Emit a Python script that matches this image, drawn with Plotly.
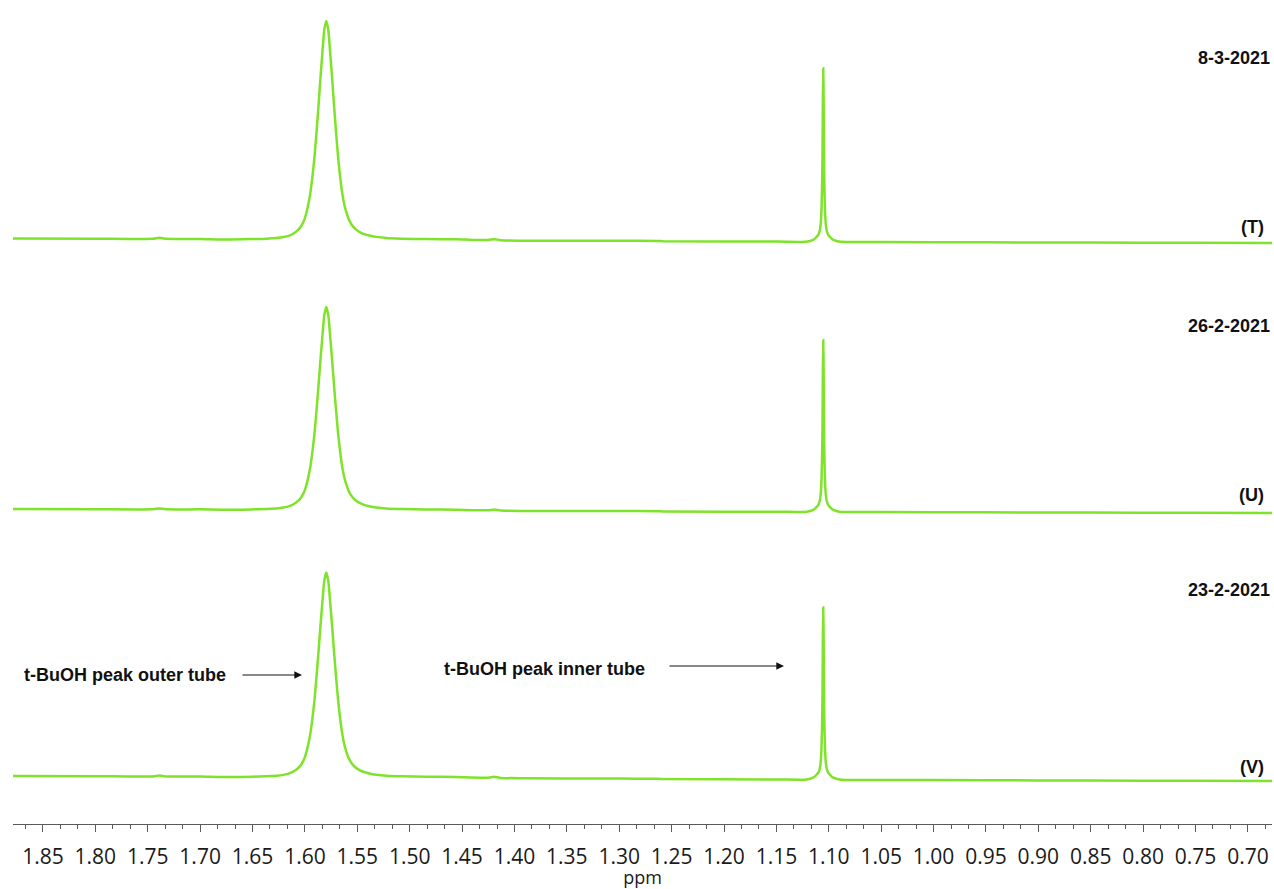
import plotly.graph_objects as go

# ---------------- data ----------------
spectrum_names = ["(T)", "(U)", "(V)"]
spectrum_dates = ["8-3-2021", "26-2-2021", "23-2-2021"]

# peak positions (ppm)
outer_center = 1.5796
inner_center = 1.1053

# peak heights above local baseline (relative units, T outer = 100)
outer_height = [100.0, 92.8, 93.6]
inner_height = [79.4, 78.7, 78.9]

# outer (broad) peak shape: ppm offset from centre -> fraction of height
outer_dppm = [0.0954, 0.0716, 0.0572, 0.0477, 0.0410, 0.0353, 0.0305, 0.0267, 0.0239,
              0.0210, 0.0191, 0.0172, 0.0153, 0.0134, 0.0114, 0.0095, 0.0076, 0.0057,
              0.0038, 0.0019, 0.0,
              -0.0019, -0.0038, -0.0057, -0.0076, -0.0095, -0.0114, -0.0134, -0.0153,
              -0.0172, -0.0191, -0.0210, -0.0239, -0.0267, -0.0305, -0.0353, -0.0410,
              -0.0477, -0.0572, -0.0716, -0.0954, -0.1240]
outer_frac = [0.0, 0.002, 0.004, 0.007, 0.011, 0.018, 0.030, 0.045, 0.062,
              0.090, 0.120, 0.160, 0.210, 0.280, 0.370, 0.480, 0.600, 0.730,
              0.850, 0.960, 1.0,
              0.960, 0.850, 0.730, 0.600, 0.480, 0.370, 0.280, 0.210,
              0.160, 0.125, 0.097, 0.070, 0.053, 0.038, 0.026, 0.018,
              0.012, 0.007, 0.004, 0.002, 0.001]

# inner (sharp) peak shape
inner_dppm = [0.0172, 0.0124, 0.0086, 0.0062, 0.0048, 0.0033, 0.0024, 0.0017, 0.0011,
              0.0007, 0.0004, 0.0, -0.0004, -0.0007, -0.0011, -0.0017, -0.0024,
              -0.0033, -0.0048, -0.0062, -0.0086, -0.0124, -0.0172]
inner_frac = [0.0, 0.005, 0.015, 0.03, 0.04, 0.065, 0.105, 0.18, 0.32,
              0.5, 0.8, 1.0, 0.8, 0.5, 0.32, 0.18, 0.105,
              0.065, 0.04, 0.03, 0.015, 0.005, 0.0]

# baseline knots (ppm) outside the peak regions, and baseline level per spectrum
baseline_ppm = [1.8786, 1.80, 1.745, 1.739, 1.733, 1.70, 1.44, 1.425, 1.419, 1.413,
                1.30, 1.263, 1.258, 1.15, 1.05, 0.95, 0.85, 0.75, 0.677]
baseline_T = [2.06, 1.97, 1.90, 2.35, 1.90, 1.85, 1.42, 1.38, 1.75, 1.30,
              1.00, 0.92, 0.80, 0.65, 0.46, 0.32, 0.20, 0.10, 0.0]
baseline_U = [1.83, 1.76, 1.70, 2.10, 1.70, 1.66, 1.28, 1.24, 1.58, 1.17,
              0.90, 0.83, 0.72, 0.58, 0.41, 0.29, 0.18, 0.09, 0.0]
baseline_V = [2.29, 2.18, 2.10, 2.55, 2.10, 2.04, 1.57, 1.52, 1.90, 1.43,
              1.10, 1.01, 0.88, 0.72, 0.51, 0.35, 0.22, 0.11, 0.0]
baselines = [baseline_T, baseline_U, baseline_V]
outer_base = [1.60, 1.45, 1.78]
inner_base = [0.55, 0.50, 0.62]

tick_values = [1.85, 1.80, 1.75, 1.70, 1.65, 1.60, 1.55, 1.50, 1.45, 1.40, 1.35, 1.30,
               1.25, 1.20, 1.15, 1.10, 1.05, 1.00, 0.95, 0.90, 0.85, 0.80, 0.75, 0.70]

# ---------------- layout geometry ----------------
W, H = 1274, 889
ML, MR, MT, MB = 13, 2, 0, 65
PW, PH = W - ML - MR, H - MT - MB
UNIT = 2.185  # px per intensity unit
LINE_COLOR = "#7FE32A"


def px_x(px):
    return (px - ML) / PW


def px_y(py):
    return (PH - (py - MT)) / PH


# rows (px top, px bottom, px of zero intensity)
rows = [(14, 284, 243), (284, 554, 513), (554, 824, 781)]
yaxis_names = ["y", "y2", "y3"]

fig = go.Figure()
for i in range(3):
    pts = list(zip(baseline_ppm, baselines[i]))
    pts += [(outer_center + d, outer_base[i] + outer_height[i] * f)
            for d, f in zip(outer_dppm, outer_frac)]
    pts += [(inner_center + d, inner_base[i] + inner_height[i] * f)
            for d, f in zip(inner_dppm, inner_frac)]
    pts.sort(key=lambda p: -p[0])
    fig.add_trace(go.Scatter(
        x=[p[0] for p in pts], y=[p[1] for p in pts],
        mode="lines", line=dict(color=LINE_COLOR, width=2.5, shape="spline", smoothing=0.6),
        xaxis="x", yaxis=yaxis_names[i], showlegend=False, hoverinfo="skip",
        name=spectrum_names[i]))

layout_axes = {}
for i, (top, bot, zero) in enumerate(rows):
    span = (bot - top) / UNIT
    lo = -(bot - zero) / UNIT
    key = "yaxis" if i == 0 else f"yaxis{i + 1}"
    layout_axes[key] = dict(domain=[px_y(bot), px_y(top)], range=[lo, lo + span],
                            visible=False, fixedrange=True)

fig.update_layout(
    width=W, height=H,
    margin=dict(l=ML, r=MR, t=MT, b=MB),
    paper_bgcolor="white", plot_bgcolor="white",
    xaxis=dict(
        range=[1.8786, 0.677], anchor="y3",
        showgrid=False, zeroline=False,
        showline=True, linecolor="#5a5a5a", linewidth=1,
        ticks="outside", ticklen=7, tickcolor="#5a5a5a", tickwidth=1,
        tickmode="array", tickvals=tick_values,
        ticktext=[f"{v:.2f}" for v in tick_values],
        ticklabelstandoff=7,
        tickfont=dict(family="Open Sans", size=21, color="#1a1a1a"),
        minor=dict(dtick=0.05 / 3, tick0=0, ticks="outside", ticklen=4,
                   tickcolor="#5a5a5a", showgrid=False),
        title=dict(text="ppm", standoff=5,
                   font=dict(family="Open Sans", size=18, color="#1a1a1a")),
    ),
    **layout_axes,
)

bold = dict(family="Liberation Sans", size=18, color="#111111")
date_y = [57.5, 326, 590]
name_y = [227, 495, 767]
annotations = []
for i in range(3):
    annotations.append(dict(text=f"<b>{spectrum_dates[i]}</b>", x=px_x(1272), y=px_y(date_y[i]),
                            xref="paper", yref="paper", xanchor="right", yanchor="middle",
                            showarrow=False, font=bold))
    annotations.append(dict(text=f"<b>{spectrum_names[i]}</b>", x=px_x(1266), y=px_y(name_y[i]),
                            xref="paper", yref="paper", xanchor="right", yanchor="middle",
                            showarrow=False, font=bold))

annotations.append(dict(text="<b>t-BuOH peak outer tube</b>", x=px_x(22), y=px_y(675),
                        xref="paper", yref="paper", xanchor="left", yanchor="middle",
                        showarrow=False, font=bold))
annotations.append(dict(text="", x=px_x(302), y=px_y(675), xref="paper", yref="paper",
                        ax=-61, ay=0, showarrow=True, arrowhead=2, arrowsize=1.4,
                        arrowwidth=1.1, arrowcolor="#111111"))
annotations.append(dict(text="<b>t-BuOH peak inner tube</b>", x=px_x(442), y=px_y(669),
                        xref="paper", yref="paper", xanchor="left", yanchor="middle",
                        showarrow=False, font=bold))
annotations.append(dict(text="", x=px_x(784), y=px_y(666), xref="paper", yref="paper",
                        ax=-116, ay=0, showarrow=True, arrowhead=2, arrowsize=1.4,
                        arrowwidth=1.1, arrowcolor="#111111"))
fig.update_layout(annotations=annotations)

fig.write_html("out.html")
